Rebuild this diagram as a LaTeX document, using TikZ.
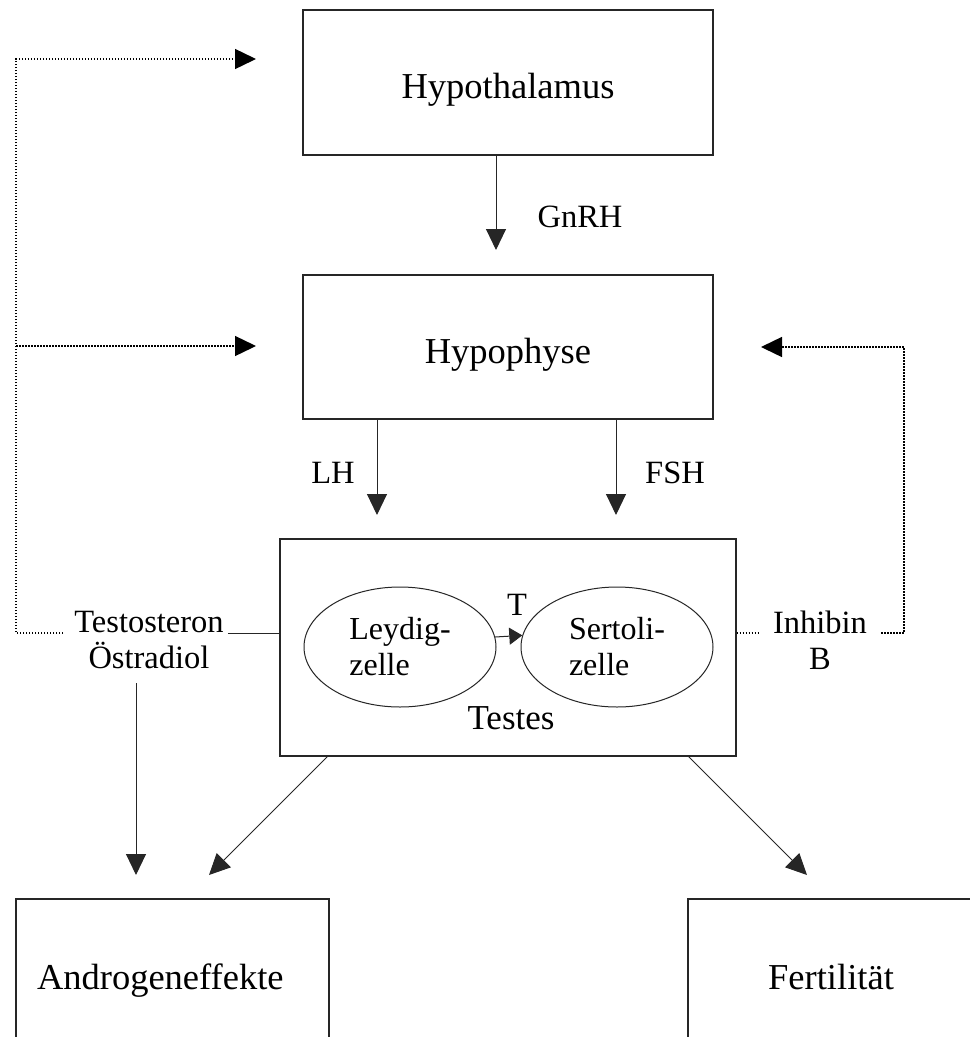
\documentclass[tikz,border=0pt]{standalone}
\usepackage{fontspec}
\setmainfont{Liberation Serif}
\usetikzlibrary{arrows.meta,positioning,calc,shapes.geometric}
\tikzset{
  % Organ boxes: plain black frames, text centred.
  hpg/box/.style={
    draw=black!85, line width=1.2pt, fill=white, inner sep=0pt,
    align=center, font=\fontsize{36.5}{42}\selectfont
  },
  % Cells inside the testis.
  hpg/cell/.style={
    ellipse, draw=black!85, line width=1pt, minimum width=192pt,
    minimum height=120pt, inner sep=0pt, align=left,
    font=\fontsize{32}{36}\selectfont
  },
  % Hormone labels.
  hpg/label/.style={
    font=\fontsize{32.5}{36}\selectfont, inner sep=4pt, align=center
  },
  hpg/line/.style={line width=1pt, draw=black!85},
  hpg/arrow/.style={
    hpg/line, -{Triangle[length=21pt,width=20pt]}
  },
  % Feedback: dotted.
  hpg/dots/.style={
    draw=black, line width=1.4pt, dash pattern=on 1.5pt off 1.5pt
  },
  hpg/fb/.style={
    hpg/dots, -{Triangle[length=21pt,width=20pt]}
  },
}

\begin{document}
\begin{tikzpicture}[x=1pt,y=-1pt]
  \useasboundingbox (0,0) rectangle (970,1037);
  \clip (0,0) rectangle (970,1037);
  % axis
  \node[hpg/box, minimum width=410pt, minimum height=145pt, text height=32pt, text depth=0pt] (hth) at (508,82.5) {Hypothalamus};
  \node[hpg/box, minimum width=410pt, minimum height=144pt, text height=32pt, text depth=0pt] (hyp) at (508,347) {Hypophyse};
  \node[hpg/box, minimum width=456pt, minimum height=217pt] (testes) at (508,647.5) {};
  \node[font=\fontsize{35}{40}\selectfont] (testesT) at (511,718) {Testes};
  \node[hpg/cell] (leydig) at (400,647) {Leydig-\\zelle};
  \node[hpg/cell] (sertoli) at (617,647) {Sertoli-\\zelle};
  \node[hpg/label] (tlab) at (517,605) {T};
  \node[hpg/label] (gnrh) at (580,217) {GnRH};
  \node[hpg/label] (lh) at (333,473) {LH};
  \node[hpg/label] (fsh) at (675,473) {FSH};
  \node[hpg/label] (testo) at (149,640) {Testosteron\\Östradiol};
  \node[hpg/label] (inhib) at (820,640) {Inhibin\\B};
  % effects
  \node[hpg/box, minimum width=313pt, minimum height=156pt, text width=271pt,
        inner xsep=21pt, align=left, text height=25pt, text depth=0pt] (andro) at (172.5,977) {Androgeneffekte};
  \node[hpg/box, minimum width=286pt, minimum height=156pt] (fert) at (831,977) {Fertilität};

  \coordinate (gnIn) at (496,250);
  \coordinate (lhIn) at (377,515);
  \coordinate (fshIn) at (616,515);
  \coordinate (fbrow) at (0,633);
  \coordinate (fbL) at (16,633);
  \coordinate (fbR) at (904,633);
  \coordinate (hthIn) at (256,59);
  \coordinate (hypInL) at (256,346);
  \coordinate (hypInR) at (761,347);
  \coordinate (androIn) at (136,875);
  \coordinate (androInB) at (209,875);
  \coordinate (fertIn) at (807,875);

  \draw[hpg/arrow] (hth.south -| gnIn) -- (gnIn);
  \foreach \c in {lhIn,fshIn}{\draw[hpg/arrow] (hyp.south -| \c) -- (\c);}
  \draw[hpg/arrow, -{Triangle[length=13pt,width=17pt]}] (leydig.6.6) -- (sertoli.173.4);

  % feedback loops
  \draw[hpg/line] (testo.east |- fbrow) -- (testes.west |- fbrow);
  \draw[hpg/fb] ($(testo.west |- fbrow)+(-7,0)$) -- (fbL) |- (hthIn);
  \draw[hpg/fb] (fbL |- hypInL) -- (hypInL);
  \draw[hpg/dots] (testes.east |- fbrow) -- ($(inhib.west |- fbrow)+(-10,0)$);
  \draw[hpg/fb] ($(inhib.east |- fbrow)+(10,0)$) -- (fbR) |- (hypInR);

  \draw[hpg/arrow] ($(testo.south -| androIn)+(0,10)$) -- (androIn);
  \draw[hpg/arrow] ($(testes.south west)+(48,0)$) -- (androInB);
  \draw[hpg/arrow] ($(testes.south east)+(-48,0)$) -- (fertIn);
\end{tikzpicture}
\end{document}
